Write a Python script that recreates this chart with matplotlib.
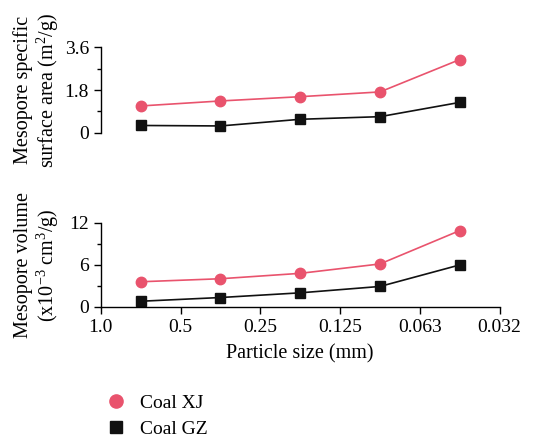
import numpy as np
import matplotlib
matplotlib.use("Agg")
import matplotlib.pyplot as plt
from matplotlib.lines import Line2D
from matplotlib.ticker import MultipleLocator

plt.rcParams['font.family'] = ['Liberation Serif', 'DejaVu Serif']
plt.rcParams['mathtext.fontset'] = 'custom'
plt.rcParams['mathtext.rm'] = 'Liberation Serif'
plt.rcParams['font.size'] = 14

size_labels = ['1.0', '0.5', '0.25', '0.125', '0.063', '0.032']
# each sample sits between two sieve sizes
sample_pos = [0.5, 1.5, 2.5, 3.5, 4.5]

area_xj = [1.13, 1.34, 1.52, 1.72, 3.08]
area_gz = [0.31, 0.29, 0.57, 0.68, 1.28]
vol_xj = [3.6, 4.03, 4.8, 6.14, 10.9]
vol_gz = [0.82, 1.35, 2.02, 2.93, 6.0]

PINK = '#e9536d'
BLACK = '#111111'

fig = plt.figure(figsize=(5.39, 4.37), dpi=100)
ax1 = fig.add_axes([0.187, 0.696, 0.740, 0.196])
ax2 = fig.add_axes([0.187, 0.2975, 0.740, 0.1925])

for ax, xj, gz in [(ax1, area_xj, area_gz), (ax2, vol_xj, vol_gz)]:
    ax.plot(sample_pos, xj, color=PINK, lw=1.2, marker='o', ms=7.5, mec=PINK, mfc=PINK)
    ax.plot(sample_pos, gz, color=BLACK, lw=1.2, marker='s', ms=7, mec=BLACK, mfc=BLACK)
    ax.set_xlim(0, 5)
    for s in ['top', 'right']:
        ax.spines[s].set_visible(False)
    ax.spines['left'].set_linewidth(1.0)
    ax.tick_params(axis='both', which='major', direction='out', length=5, width=1.0, labelsize=14)
    ax.tick_params(axis='y', which='minor', direction='out', length=3, width=1.0)

ax1.set_ylim(0, 3.6)
ax1.set_yticks([0, 1.8, 3.6])
ax1.set_yticklabels(['0', '1.8', '3.6'])
ax1.yaxis.set_minor_locator(MultipleLocator(0.9))
ax1.spines['bottom'].set_visible(False)
ax1.set_xticks([])
ax1.set_ylabel('Mesopore specific\nsurface area (m$^2$/g)', fontsize=14.5, linespacing=1.05)

ax2.set_ylim(0, 12)
ax2.set_yticks([0, 6, 12])
ax2.yaxis.set_minor_locator(MultipleLocator(3))
ax2.set_xticks(range(len(size_labels)))
ax2.set_xticklabels(size_labels)
ax2.spines['bottom'].set_linewidth(1.0)
ax2.set_ylabel('Mesopore volume\n(x10$^{-3}$ cm$^3$/g)', fontsize=14.5, linespacing=1.05)
ax2.set_xlabel('Particle size (mm)', fontsize=14.5, labelpad=6)

for a in (ax1, ax2):
    a.yaxis.set_label_coords(-0.1, 0.5)

handles = [
    Line2D([], [], color=PINK, marker='o', ls='none', ms=9.5),
    Line2D([], [], color=BLACK, marker='s', ls='none', ms=9),
]
fig.legend(handles, ['Coal XJ', 'Coal GZ'], loc='upper left', bbox_to_anchor=(0.18, 0.116),
           frameon=False, fontsize=14, handletextpad=0.6, labelspacing=0.45,
           borderaxespad=0, handlelength=1.2)

fig.savefig('out.png', dpi=100)
